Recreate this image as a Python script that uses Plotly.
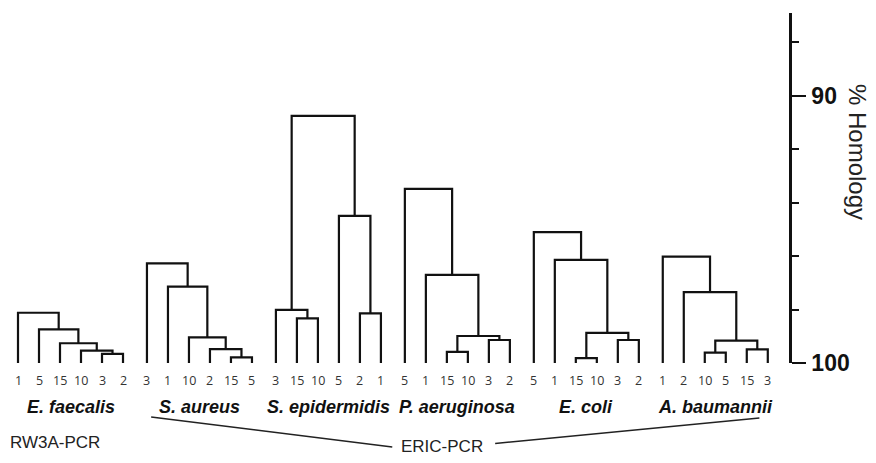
import plotly.graph_objects as go

# ---- data ----
species = ["E. faecalis", "S. aureus", "S. epidermidis", "P. aeruginosa", "E. coli", "A. baumannii"]

leaves_faecalis = ["1", "5", "15", "10", "3", "2"]
leaves_aureus = ["3", "1", "10", "2", "15", "5"]
leaves_epidermidis = ["3", "15", "10", "5", "2", "1"]
leaves_aeruginosa = ["5", "1", "15", "10", "3", "2"]
leaves_coli = ["5", "1", "15", "10", "3", "2"]
leaves_baumannii = ["1", "2", "10", "5", "15", "3"]

# linkage: (left node, right node, % homology at merge); nodes 0-5 leaves, 6+ merges
merges_faecalis = [(4, 5, 99.66), (3, 6, 99.54), (2, 7, 99.26), (1, 8, 98.74), (0, 9, 98.12)]
merges_aureus = [(4, 5, 99.79), (3, 6, 99.48), (2, 7, 99.04), (1, 8, 97.14), (0, 9, 96.27)]
merges_epidermidis = [(1, 2, 98.33), (0, 6, 98.01), (4, 5, 98.14), (3, 8, 94.49), (7, 9, 90.75)]
merges_aeruginosa = [(2, 3, 99.58), (4, 5, 99.14), (6, 7, 98.99), (1, 8, 96.70), (0, 9, 93.48)]
merges_coli = [(2, 3, 99.82), (4, 5, 99.14), (6, 7, 98.87), (1, 8, 96.14), (0, 9, 95.10)]
merges_baumannii = [(2, 3, 99.61), (4, 5, 99.49), (6, 7, 99.16), (1, 8, 97.35), (0, 9, 96.02)]

y_ticks = [90, 100]
y_tick_labels = ["90", "100"]

all_leaves = [leaves_faecalis, leaves_aureus, leaves_epidermidis,
              leaves_aeruginosa, leaves_coli, leaves_baumannii]
all_merges = [merges_faecalis, merges_aureus, merges_epidermidis,
              merges_aeruginosa, merges_coli, merges_baumannii]

BASE = 100.0
GROUP_STEP = 6.14
FONT = "Liberation Sans, Arial, sans-serif"

xs, ys = [], []
annotations = []
for g, (leaves, merges) in enumerate(zip(all_leaves, all_merges)):
    node_x = [g * GROUP_STEP + i for i in range(len(leaves))]
    node_y = [BASE] * len(leaves)
    for a, b, h in merges:
        xa, ya, xb, yb = node_x[a], node_y[a], node_x[b], node_y[b]
        xs += [xa, xa, xb, xb, None]
        ys += [ya, h, h, yb, None]
        node_x.append((xa + xb) / 2)
        node_y.append(h)
    for i, lab in enumerate(leaves):
        annotations.append(dict(x=g * GROUP_STEP + i, y=-0.049, xref="x", yref="paper",
                                text=lab, showarrow=False, yanchor="middle",
                                font=dict(family="Open Sans, sans-serif", size=12.5, color="#333")))
    annotations.append(dict(x=g * GROUP_STEP + 2.5, y=-0.126, xref="x", yref="paper",
                            text="<b><i>" + species[g] + "</i></b>", showarrow=False,
                            yanchor="middle",
                            font=dict(family=FONT, size=18, color="#111")))

fig = go.Figure()
fig.add_trace(go.Scatter(x=xs, y=ys, mode="lines",
                         line=dict(color="#111", width=2.2),
                         hoverinfo="skip", showlegend=False, cliponaxis=False))

annotations.append(dict(x=-0.476, y=-0.226, xref="x", yref="paper", xanchor="left",
                        yanchor="middle", text="RW3A-PCR", showarrow=False,
                        font=dict(family=FONT, size=17, color="#222")))
eric_left = 3 * GROUP_STEP - 0.3
annotations.append(dict(x=eric_left, y=-0.238, xref="x", yref="paper", xanchor="left",
                        yanchor="middle", text="ERIC-PCR", showarrow=False,
                        font=dict(family=FONT, size=17, color="#222")))
annotations.append(dict(x=1.087, y=0.603, xref="paper", yref="paper",
                        xanchor="center", yanchor="middle",
                        text="% Homology", textangle=90, showarrow=False,
                        font=dict(family=FONT, size=24, color="#222")))

shapes = [
    dict(type="line", xref="x", yref="paper", x0=1 * GROUP_STEP + 0.2, y0=-0.154,
         x1=eric_left - 0.3, y1=-0.24, line=dict(color="#222", width=1.5)),
    dict(type="line", xref="x", yref="paper", x0=eric_left + 4.6, y0=-0.23,
         x1=5 * GROUP_STEP + 4.6, y1=-0.157, line=dict(color="#222", width=1.5)),
]

fig.update_layout(
    width=868, height=455,
    margin=dict(l=0, r=87, t=5, b=100),
    paper_bgcolor="white", plot_bgcolor="white",
    annotations=annotations, shapes=shapes,
    xaxis=dict(range=[-0.476, 36.71], visible=False, fixedrange=True),
    yaxis=dict(range=[100, 86.9], side="right", showgrid=False, zeroline=False,
               showline=True, linecolor="#111", linewidth=2.5,
               ticks="outside", ticklen=14, tickwidth=2, tickcolor="#111",
               tickvals=y_ticks, ticktext=["<b>" + t + "</b>" for t in y_tick_labels],
               tickfont=dict(family=FONT, size=23, color="#111"),
               ticklabelstandoff=1,
               minor=dict(ticks="outside", tick0=88, dtick=2, ticklen=7,
                          tickwidth=1.5, tickcolor="#111"),
               automargin=False, fixedrange=True),
)

fig.write_html("out.html")
